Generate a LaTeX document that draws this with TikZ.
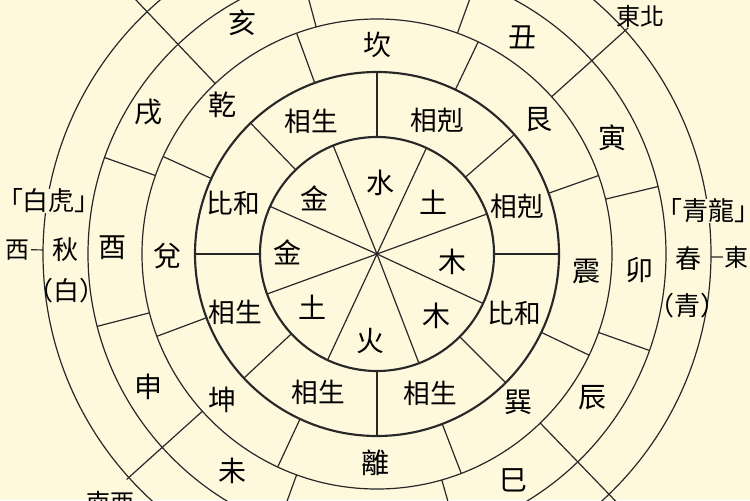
\documentclass[tikz,border=0pt]{standalone}
\usepackage{fontspec}
\newfontfamily\cjkfont{Noto Sans CJK TC}
\definecolor{paper}{RGB}{254,249,221}
\definecolor{inkline}{RGB}{40,40,40}

\tikzset{every picture/.style={line width=0.75pt}}
\tikzset{
  ringthin/.style={draw=inkline, line width=0.9pt},
  ringbold/.style={draw=inkline, line width=1.6pt},
  divider/.style={draw=inkline, line width=0.9pt},
  glyph/.style={inner sep=0.75pt, text=black, font=\cjkfont\fontsize{21}{21}\selectfont},
  glyphpair/.style={inner sep=0.75pt, text=black, font=\cjkfont\fontsize{20}{20}\selectfont},
  glyphseason/.style={inner sep=0.75pt, text=black, font=\cjkfont\fontsize{19.5}{19.5}\selectfont},
  glyphdir/.style={inner sep=0.75pt, text=black, font=\cjkfont\fontsize{18}{18}\selectfont},
  masked/.style={fill=paper, inner sep=0pt},
}

\begin{document}
\begin{tikzpicture}[x=0.75pt,y=0.75pt,yscale=-1,xscale=1]
%set diagram left start at 0, and has height of 500
\useasboundingbox (0,0) rectangle (750,500);
\clip (0,0) rectangle (750,500);
\fill [paper] (0,0) rectangle (750,500);

\begin{scope}[shift={(377,254)},yscale=-1]
\coordinate (O) at (0,0);
%Shape: Circle
\draw [ringbold] (O) circle (117);
%Shape: Circle
\draw [ringbold] (O) circle (182);
%Shape: Circle
\draw [ringthin] (O) circle (235);
%Shape: Circle
\draw [ringthin] (O) circle (289);
%Shape: Circle
\draw [ringthin] (O) circle (334);

%Straight Lines: spokes of the inner wheel
\draw [divider] (O) -- (20:117);
\draw [divider] (O) -- (65:117);
\draw [divider] (O) -- (112:117);
\draw [divider] (O) -- (156:117);
\draw [divider] (O) -- (200:117);
\draw [divider] (O) -- (245:117);
\draw [divider] (O) -- (291:117);
\draw [divider] (O) -- (335:117);

%Straight Lines: second ring
\draw [divider] (0:117) -- (0:182);
\draw [divider] (41:117) -- (41:182);
\draw [divider] (90:117) -- (90:182);
\draw [divider] (134:117) -- (134:182);
\draw [divider] (180:117) -- (180:182);
\draw [divider] (223:117) -- (223:182);
\draw [divider] (270:117) -- (270:182);
\draw [divider] (315:117) -- (315:182);

%Straight Lines: trigram ring
\draw [divider] (19.5:182) -- (19.5:235);
\draw [divider] (64.5:182) -- (64.5:235);
\draw [divider] (110:182) -- (110:235);
\draw [divider] (155.5:182) -- (155.5:235);
\draw [divider] (200.5:182) -- (200.5:235);
\draw [divider] (245:182) -- (245:235);
\draw [divider] (291:182) -- (291:235);
\draw [divider] (334.5:182) -- (334.5:235);

%Straight Lines: branch ring
\draw [divider] (13.5:235) -- (13.5:289);
\draw [divider] (70:235) -- (70:289);
\draw [divider] (105:235) -- (105:289);
\draw [divider] (160.5:235) -- (160.5:289);
\draw [divider] (194.5:235) -- (194.5:289);
\draw [divider] (250:235) -- (250:289);
\draw [divider] (286:235) -- (286:289);
\draw [divider] (340.5:235) -- (340.5:289);

%Straight Lines: corner directions
\draw [divider] (42:235) -- (42:338) coordinate (neend);
\draw [divider] (133.5:235) -- (133.5:370);
\draw [divider] (222:235) -- (222:337) coordinate (swend);
\draw [divider] (314:235) -- (314:370);

%Straight Lines: east and west ticks
\draw [divider] (-0.5:334) -- (-0.5:346) coordinate (eastend);
\draw [divider] (179.3:334) -- (179.3:346) coordinate (westend);
\end{scope}

% Text Node
\draw (380,183) node (shui) [glyph] {水};
% Text Node
\draw (433,202) node (tuA) [glyph] {土};
% Text Node
\draw (452,262) node (muA) [glyph] {木};
% Text Node
\draw (436,316) node (muB) [glyph] {木};
% Text Node
\draw (370,341) node (huo) [glyph] {火};
% Text Node
\draw (312,307) node (tuB) [glyph] {土};
% Text Node
\draw (287,252) node (jinA) [glyph] {金};
% Text Node
\draw (314,198) node (jinB) [glyph] {金};

% Text Node
\draw (311,121) node (relA) [glyphpair] {相生};
% Text Node
\draw (437,120) node (relB) [glyphpair] {相剋};
% Text Node
\draw (517,206) node (relC) [glyphpair] {相剋};
% Text Node
\draw (514,313) node (relD) [glyphpair] {比和};
% Text Node
\draw (430,393) node (relE) [glyphpair] {相生};
% Text Node
\draw (318,392) node (relF) [glyphpair] {相生};
% Text Node
\draw (235,312) node (relG) [glyphpair] {相生};
% Text Node
\draw (233,203) node (relH) [glyphpair] {比和};

% Text Node
\draw (377,45) node (kan) [glyph] {坎};
% Text Node
\draw (538,120) node (gen) [glyph] {艮};
% Text Node
\draw (586,271) node (zhen) [glyph] {震};
% Text Node
\draw (518,402) node (xun) [glyph] {巽};
% Text Node
\draw (375,463) node (li) [glyph] {離};
% Text Node
\draw (222,400) node (kun) [glyph] {坤};
% Text Node
\draw (167,256) node (dui) [glyph] {兌};
% Text Node
\draw (222,105) node (qian) [glyph] {乾};

% Text Node
\draw (522,37) node (chou) [glyph] {丑};
% Text Node
\draw (612,138) node (yin) [glyph] {寅};
% Text Node
\draw (639,270) node (mao) [glyph] {卯};
% Text Node
\draw (592,398) node (chen) [glyph] {辰};
% Text Node
\draw (513,480) node (si) [glyph] {巳};
% Text Node
\draw (232,471) node (wei) [glyph] {未};
% Text Node
\draw (148,387) node (shen) [glyph] {申};
% Text Node
\draw (112,248) node (you) [glyph] {酉};
% Text Node
\draw (148,112) node (xu) [glyph] {戌};
% Text Node
\draw (242,23) node (hai) [glyph] {亥};

% Text Node
\draw (708,211) node (qinglong) [glyphseason, masked] {｢青龍｣};
% Text Node
\draw (688,259) node (chun) [glyphseason] {春};
% Text Node
\draw (687,306) node (qing) [glyphseason] {（青）};
% Text Node
\draw (49,201) node (baihu) [glyphseason, masked] {｢白虎｣};
% Text Node
\draw (65,250) node (qiu) [glyphseason] {秋};
% Text Node
\draw (66,291) node (bai) [glyphseason] {（白）};

% Text Node
\node (dong) [glyphdir, anchor=west] at (eastend) {東};
% Text Node
\node (xi) [glyphdir, anchor=east] at (westend) {西};
% Text Node
\draw (640,16) node (dongbei) [glyphdir] {東北};
% Text Node
\draw (110,502) node (nanxi) [glyphdir] {南西};

\end{tikzpicture}
\end{document}
